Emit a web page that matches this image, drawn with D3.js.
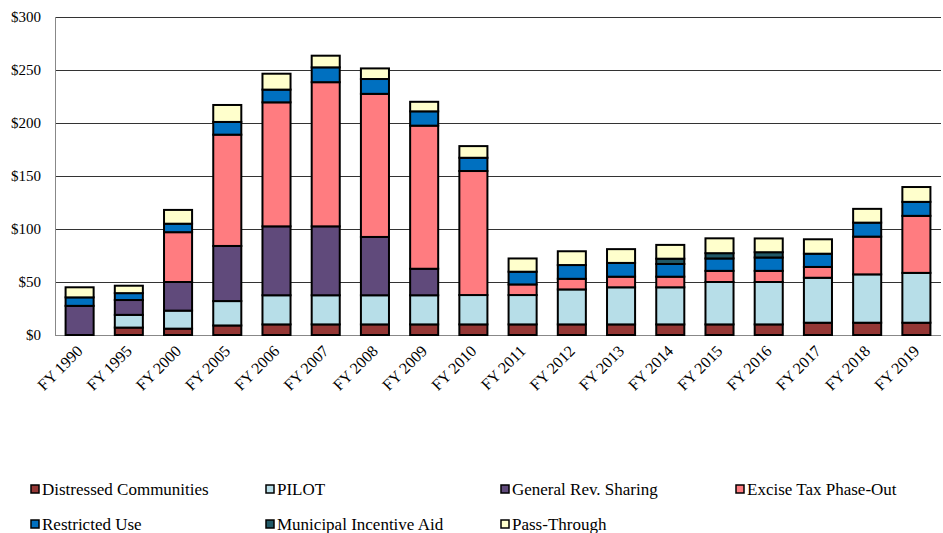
<!DOCTYPE html>
<html>
<head>
<meta charset="utf-8">
<script src="https://cdn.jsdelivr.net/npm/d3@7"></script>
<style>
  body { margin: 0; background: #fff; }
</style>
</head>
<body>
<div id="main"></div>
<script>
var ctx = {
    w: 943,
    h: 533,
    left: 55,
    right: 941,
    top: 17,
    bottom: 335,
    font: "Liberation Serif, Times New Roman, serif"
};

// data, $ millions
var years = ["FY 1990", "FY 1995", "FY 2000", "FY 2005", "FY 2006", "FY 2007", "FY 2008", "FY 2009", "FY 2010",
    "FY 2011", "FY 2012", "FY 2013", "FY 2014", "FY 2015", "FY 2016", "FY 2017", "FY 2018", "FY 2019"];
var seriesNames = ["Distressed Communities", "PILOT", "General Rev. Sharing", "Excise Tax Phase-Out",
    "Restricted Use", "Municipal Incentive Aid", "Pass-Through"];
var seriesColors = ["#953735", "#B7DEE8", "#604A7B", "#FF7C80", "#0070C0", "#215967", "#FFFFCC"];

var distressed = [0, 7, 6, 9, 10, 10, 10, 10, 10, 10, 10, 10, 10, 10, 10, 11.6, 11.6, 11.6];
var pilot = [0, 12, 17, 23, 27.5, 27.5, 27.5, 27.5, 27.7, 27.7, 33, 35, 35, 40, 40, 42.4, 45.6, 47];
var genRev = [27.5, 14, 27, 52, 65, 65, 55, 25, 0, 0, 0, 0, 0, 0, 0, 0, 0, 0];
var excise = [0, 0, 47, 105, 117, 136, 135, 135, 117, 10, 10, 10, 10, 10.5, 10.5, 10.2, 35.6, 53.8];
var restricted = [8, 6.5, 8, 12, 12, 14, 14, 13.5, 12.5, 12, 13, 13, 12, 11.7, 12.6, 12.5, 13.2, 13.2];
var incentive = [0, 0, 0, 0, 0, 0, 0, 0, 0, 0, 0, 0, 5, 5, 5, 0, 0, 0];
var passThrough = [9.5, 7, 13, 16, 15, 11, 10, 9, 11, 12.5, 13, 13, 13, 14, 13, 13.6, 13, 14];

var yTicks = [0, 50, 100, 150, 200, 250, 300];

var createChart = function(svg) {
    var allSeries = [distressed, pilot, genRev, excise, restricted, incentive, passThrough];

    // build rows for d3.stack
    var rows = years.map(function(y, i) {
        var r = { year: y };
        seriesNames.forEach(function(s, k) { r[s] = allSeries[k][i]; });
        return r;
    });
    var stacked = d3.stack().keys(seriesNames)(rows);

    var x = d3.scaleBand().domain(years).range([ctx.left, ctx.right]).paddingInner(0.43).paddingOuter(0.215);
    var y = d3.scaleLinear().domain([0, 300]).range([ctx.bottom, ctx.top]);

    // gridlines
    svg.append("g")
        .selectAll("line")
        .data(yTicks)
        .enter()
        .append("line")
        .attr("x1", ctx.left)
        .attr("x2", ctx.right)
        .attr("y1", function(d) { return Math.round(y(d)) + 0.5; })
        .attr("y2", function(d) { return Math.round(y(d)) + 0.5; })
        .style("stroke", function(d) { return d == 0 ? "#888" : "#333"; })
        .style("stroke-width", 1);

    // y axis labels
    svg.append("g")
        .selectAll("text")
        .data(yTicks)
        .enter()
        .append("text")
        .attr("x", 41)
        .attr("y", function(d) { return y(d) + 5; })
        .attr("text-anchor", "end")
        .attr("font-family", ctx.font)
        .attr("font-size", 15)
        .text(function(d) { return "$" + d; });

    // left axis line
    svg.append("line")
        .attr("x1", ctx.left + 0.5).attr("x2", ctx.left + 0.5)
        .attr("y1", ctx.top).attr("y2", ctx.bottom)
        .style("stroke", "#888");

    // bars
    var layers = svg.selectAll("g.layer")
        .data(stacked)
        .enter()
        .append("g")
        .attr("class", "layer")
        .style("fill", function(d, i) { return seriesColors[i]; });

    layers.selectAll("rect")
        .data(function(d) { return d.filter(function(p) { return p[1] - p[0] > 0; }); })
        .enter()
        .append("rect")
        .attr("x", function(p) { return x(p.data.year); })
        .attr("width", x.bandwidth())
        .attr("y", function(p) { return y(p[1]); })
        .attr("height", function(p) { return y(p[0]) - y(p[1]); })
        .style("stroke", "#000")
        .style("stroke-width", 2);

    // x labels, rotated
    svg.append("g")
        .selectAll("text")
        .data(years)
        .enter()
        .append("text")
        .attr("transform", function(d) {
            return "translate(" + (x(d) + x.bandwidth() / 2 + 4) + "," + (ctx.bottom + 17) + ") rotate(-45)";
        })
        .attr("text-anchor", "end")
        .attr("font-family", ctx.font)
        .attr("font-size", 16)
        .text(function(d) { return d; });

    // legend
    var legendPos = [[30, 489], [265, 489], [500, 489], [735, 489], [30, 524], [265, 524], [500, 524]];
    var legend = svg.append("g")
        .selectAll("g")
        .data(seriesNames)
        .enter()
        .append("g")
        .attr("transform", function(d, i) { return "translate(" + legendPos[i][0] + "," + legendPos[i][1] + ")"; });
    legend.append("rect")
        .attr("x", 1).attr("y", -4)
        .attr("width", 8).attr("height", 8)
        .style("fill", function(d, i) { return seriesColors[i]; })
        .style("stroke", "#000")
        .style("stroke-width", 1.5);
    legend.append("text")
        .attr("x", 12)
        .attr("y", 6)
        .attr("font-family", ctx.font)
        .attr("font-size", 17)
        .text(function(d) { return d; });
};

var svgEl = d3.select("#main").append("svg")
    .attr("width", ctx.w)
    .attr("height", ctx.h);
createChart(svgEl);
</script>
</body>
</html>
